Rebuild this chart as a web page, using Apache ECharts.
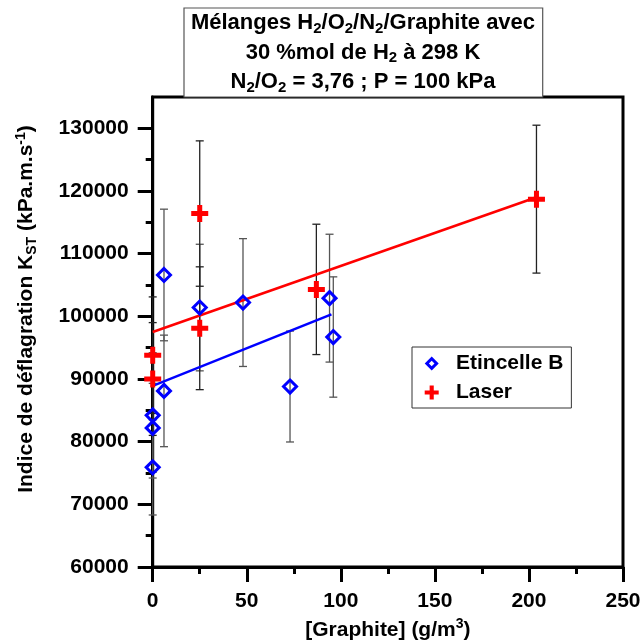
<!DOCTYPE html>
<html>
<head>
<meta charset="utf-8">
<script src="https://cdn.jsdelivr.net/npm/echarts@6/dist/echarts.min.js"></script>
<style>html,body{margin:0;padding:0;background:#fff;}#c{width:643px;height:641px;}</style>
</head>
<body>
<div id="c"></div>
<script>
// ---- data ----
const blueX   = [0, 0, 0, 6, 6, 25, 48, 73, 94, 96];
const blueY   = [75900, 82200, 84200, 106600, 88100, 101400, 102200, 88800, 102900, 96700];
const blueErr = [7600, 7100, 10000, 10500, 8900, 10100, 10200, 8850, 10200, 9600];

const redX   = [0, 0, 25, 25, 87, 204];
const redY   = [93800, 90000, 116400, 98100, 104300, 118700];
const redErr = [9300, 9000, 11600, 9800, 10400, 11800];

const fitBlueX = [0, 95];
const fitBlueY = [88900, 100300];
const fitRedX  = [0, 204];
const fitRedY  = [97500, 119000];

const yTicks      = [60000, 70000, 80000, 90000, 100000, 110000, 120000, 130000];
const yMinorTicks = [65000, 75000, 85000, 95000, 105000, 115000, 125000];
const xTickLabels = [0, 50, 100, 150, 200, 250];

const seriesNames = ['Etincelle B', 'Laser'];
// --------------------------------------

const FF = '"Liberation Sans", Arial, Helvetica, sans-serif';
const zip = (a, b, c) => a.map((v, i) => c ? [v, b[i], c[i]] : [v, b[i]]);

function errRender(color) {
  return function (params, api) {
    const x = api.value(0), y = api.value(1), e = api.value(2);
    const t = api.coord([x, y + e]);
    const b = api.coord([x, y - e]);
    const hw = 4;
    const st = { stroke: color, lineWidth: 1.3 };
    return {
      type: 'group',
      children: [
        { type: 'line', shape: { x1: t[0], y1: t[1], x2: b[0], y2: b[1] }, style: st },
        { type: 'line', shape: { x1: t[0] - hw, y1: t[1], x2: t[0] + hw, y2: t[1] }, style: st },
        { type: 'line', shape: { x1: b[0] - hw, y1: b[1], x2: b[0] + hw, y2: b[1] }, style: st }
      ]
    };
  };
}

const PLUS = 'path://M6,0H11V6H17V11H11V17H6V11H0V6H6Z';
const DIAMOND_RING = 'path://M7,0L14,7L7,14L0,7Z M7,4.2L4.2,7L7,9.8L9.8,7Z';

const chart = echarts.init(document.getElementById('c'), null, { renderer: 'canvas' });

const tickStyle = { color: '#000', width: 3 };
const labelBase = { fontSize: 21, fontWeight: 'bold', color: '#000', fontFamily: FF };

chart.setOption({
  animation: false,
  backgroundColor: '#fff',
  textStyle: { fontFamily: FF },
  grid: {
    left: 152.7, right: 20, top: 97, bottom: 74,
    containLabel: false, outerBoundsMode: 'none',
    show: true, borderColor: '#000', borderWidth: 3, backgroundColor: 'transparent'
  },
  graphic: [
    { type: 'rect', z: 1, shape: { x: 184, y: 8, width: 358.7, height: 89 }, style: { fill: '#fff', stroke: '#555', lineWidth: 1.2 } },
    {
      type: 'text', z: 2, x: 363, y: 52.5,
      style: {
        text: '{t|Mélanges H}{s|2}{t|/O}{s|2}{t|/N}{s|2}{t|/Graphite avec}\n{t|30 %mol de H}{s|2}{t| à 298 K}\n{t|N}{s|2}{t|/O}{s|2}{t| = 3,76 ; P = 100 kPa}',
        align: 'center', verticalAlign: 'middle', fill: '#000',
        rich: {
          t: { fontSize: 22, fontWeight: 'bold', fontFamily: FF, fill: '#000', lineHeight: 29.5 },
          s: { fontSize: 15, fontWeight: 'bold', fontFamily: FF, fill: '#000', lineHeight: 29.5, padding: [11, 0, 0, 0] }
        }
      }
    }
  ],
  legend: {
    data: [
      { name: seriesNames[0], icon: DIAMOND_RING, itemStyle: { color: '#0000ff', borderWidth: 0 } },
      { name: seriesNames[1] }
    ],
    orient: 'vertical', left: 412, top: 347,
    padding: [6, 8, 5, 12.7],
    itemWidth: 14, itemHeight: 14, itemGap: 8,
    backgroundColor: '#fff', borderColor: '#333', borderWidth: 1,
    textStyle: { fontSize: 21, fontWeight: 'bold', color: '#000', fontFamily: FF, lineHeight: 20, padding: [0, 0, 0, 12.3] }
  },
  xAxis: [{
    type: 'value', min: 0, max: 250, interval: 50,
    axisLine: { onZero: false, lineStyle: tickStyle },
    axisTick: { length: 15, lineStyle: tickStyle },
    minorTick: { show: true, splitNumber: 2, length: 7, lineStyle: tickStyle },
    splitLine: { show: false },
    axisLabel: Object.assign({ margin: 24, formatter: v => String(v) }, labelBase),
    name: '{n|[Graphite] (g/m}{p|3}{n|)}',
    nameLocation: 'middle', nameGap: 49,
    nameTextStyle: {
      rich: {
        n: { fontSize: 21, fontWeight: 'bold', fontFamily: FF, color: '#000', lineHeight: 24 },
        p: { fontSize: 14, fontWeight: 'bold', fontFamily: FF, color: '#000', lineHeight: 24, padding: [0, 0, 12, 0] }
      }
    }
  }],
  yAxis: [{
    type: 'value', min: 60000, max: 135000, interval: 10000,
    axisLine: { onZero: false, lineStyle: tickStyle },
    axisTick: { length: 15, lineStyle: tickStyle, customValues: yTicks },
    splitLine: { show: false },
    axisLabel: Object.assign({ margin: 24, customValues: yTicks, formatter: v => String(v) }, labelBase),
    name: '{n|Indice de déflagration K}{s|ST}{n| (kPa.m.s}{p|-1}{n|)}',
    nameLocation: 'middle', nameRotate: 90, nameGap: 114,
    nameTextStyle: {
      padding: [0, 0, 0, 46],
      rich: {
        n: { fontSize: 21, fontWeight: 'bold', fontFamily: FF, color: '#000', lineHeight: 24 },
        s: { fontSize: 14, fontWeight: 'bold', fontFamily: FF, color: '#000', lineHeight: 24, padding: [11, 0, 0, 0] },
        p: { fontSize: 14, fontWeight: 'bold', fontFamily: FF, color: '#000', lineHeight: 24, padding: [0, 0, 12, 0] }
      }
    }
  }, {
    type: 'value', min: 60000, max: 135000, interval: 5000, position: 'left', offset: 0,
    axisLine: { show: false },
    axisTick: { length: 7, lineStyle: tickStyle, customValues: yMinorTicks },
    axisLabel: { show: false },
    splitLine: { show: false }
  }],
  series: [
    { name: 'errB', type: 'custom', z: 2, silent: true, data: zip(blueX, blueY, blueErr), encode: { x: 0, y: 1 }, renderItem: errRender('#555') },
    { name: 'errL', type: 'custom', z: 2, silent: true, data: zip(redX, redY, redErr), encode: { x: 0, y: 1 }, renderItem: errRender('#222') },
    { name: 'fitB', type: 'line', z: 3, silent: true, symbol: 'none', data: zip(fitBlueX, fitBlueY), lineStyle: { color: '#0000ff', width: 2.5 } },
    { name: 'fitL', type: 'line', z: 3, silent: true, symbol: 'none', data: zip(fitRedX, fitRedY), lineStyle: { color: '#ff0000', width: 2.5 } },
    {
      name: seriesNames[0], type: 'scatter', z: 5, clip: false,
      symbol: 'diamond', symbolSize: 13,
      itemStyle: { color: 'rgba(255,255,255,0)', borderColor: '#0000ff', borderWidth: 3, opacity: 1 },
      data: zip(blueX, blueY)
    },
    {
      name: seriesNames[1], type: 'scatter', z: 6, clip: false,
      symbol: PLUS, symbolSize: 17,
      itemStyle: { color: '#ff0000', opacity: 1 },
      data: zip(redX, redY)
    }
  ]
});
</script>
</body>
</html>
